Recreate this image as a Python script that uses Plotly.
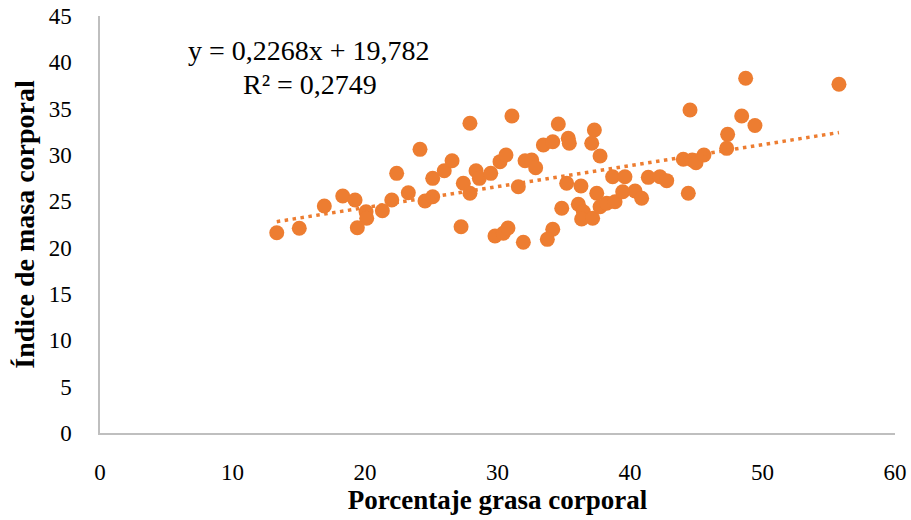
import plotly.graph_objects as go

# Porcentaje grasa corporal (x) and Índice de masa corporal (y)
grasa = [13.34, 15.04, 16.93, 18.32, 19.25, 20.08, 20.13, 19.42, 21.31, 22.02,
         22.39, 23.27, 24.15, 24.53, 25.11, 25.11, 25.98, 26.57, 27.25, 27.42,
         27.92, 27.92, 28.38, 28.63, 29.49, 30.19, 30.64, 29.81, 30.44, 30.79,
         31.09, 31.57, 31.95, 32.08, 32.58, 32.88, 33.46, 34.17, 34.59, 35.34,
         35.42, 34.85, 34.17, 33.76, 35.22, 36.30, 36.10, 36.48, 36.35, 37.18,
         37.31, 37.11, 37.74, 37.49, 37.74, 38.24, 38.87, 38.69, 39.45, 39.62,
         40.38, 40.88, 41.38, 42.26, 42.77, 44.02, 44.53, 44.40, 44.70, 44.98,
         45.58, 47.37, 47.30, 48.43, 48.73, 49.43, 55.77]
imc = [21.61, 22.09, 24.50, 25.57, 25.14, 23.88, 23.17, 22.15, 23.99, 25.14,
       28.02, 25.93, 30.61, 25.03, 25.50, 27.48, 28.30, 29.38, 22.26, 26.95,
       25.87, 33.42, 28.30, 27.48, 28.02, 29.28, 30.00, 21.26, 21.55, 22.12,
       34.21, 26.58, 20.58, 29.38, 29.46, 28.63, 31.08, 31.43, 33.34, 31.80,
       31.26, 24.25, 21.98, 20.90, 26.95, 26.65, 24.68, 23.88, 23.09, 23.17,
       32.70, 31.26, 29.89, 25.87, 24.42, 24.79, 24.96, 27.66, 26.04, 27.66,
       26.11, 25.33, 27.59, 27.66, 27.23, 29.54, 34.85, 25.87, 29.46, 29.17,
       30.00, 32.23, 30.72, 34.21, 38.28, 33.18, 37.63]

slope = 0.2268
intercept = 19.782
r2_text = "0,2749"

x_ticks = [0, 10, 20, 30, 40, 50, 60]
y_ticks = [0, 5, 10, 15, 20, 25, 30, 35, 40, 45]

orange = "#ED7D31"
font_family = "Liberation Serif, Times New Roman, serif"

trend_x = [min(grasa), max(grasa)]
trend_y = [slope * v + intercept for v in trend_x]

fig = go.Figure()
fig.add_trace(go.Scatter(
    x=grasa, y=imc, mode="markers",
    marker=dict(color=orange, size=15, line=dict(width=0)),
    showlegend=False, hoverinfo="x+y"))
fig.add_trace(go.Scatter(
    x=trend_x, y=trend_y, mode="lines",
    line=dict(color=orange, width=3.5, dash="3.5px,4.5px"),
    showlegend=False, hoverinfo="skip"))

fig.add_annotation(
    xref="x domain", yref="y domain", x=(309 - 100) / 795, y=(433 - 50) / 417,
    xanchor="center", yanchor="middle", showarrow=False,
    text="y = 0,2268x + 19,782", font=dict(family=font_family, size=28, color="black"))
fig.add_annotation(
    xref="x domain", yref="y domain", x=(310 - 100) / 795, y=(433 - 85) / 417,
    xanchor="center", yanchor="middle", showarrow=False,
    text="R² = " + r2_text,
    font=dict(family=font_family, size=28, color="black"))

fig.update_layout(
    width=911, height=520,
    margin=dict(l=100, r=16, t=16, b=87, autoexpand=False),
    paper_bgcolor="white", plot_bgcolor="white",
    font=dict(family=font_family, color="black"),
    xaxis=dict(range=[0, 60], tickvals=x_ticks, showgrid=False, zeroline=False,
               showline=True, linecolor="#BFBFBF", linewidth=1.5, ticks="",
               tickfont=dict(size=23), ticklabelstandoff=18, automargin=False,
               title=dict(text="<b>Porcentaje grasa corporal</b>",
                          font=dict(size=27), standoff=6)),
    yaxis=dict(range=[0, 45], tickvals=y_ticks, showgrid=False, zeroline=False,
               showline=True, linecolor="#BFBFBF", linewidth=1.5, ticks="",
               tickfont=dict(size=23), ticklabelstandoff=22, automargin=False,
               title=dict(text="<b>Índice de masa corporal</b>",
                          font=dict(size=28), standoff=6)),
)

fig.write_html("out.html")
